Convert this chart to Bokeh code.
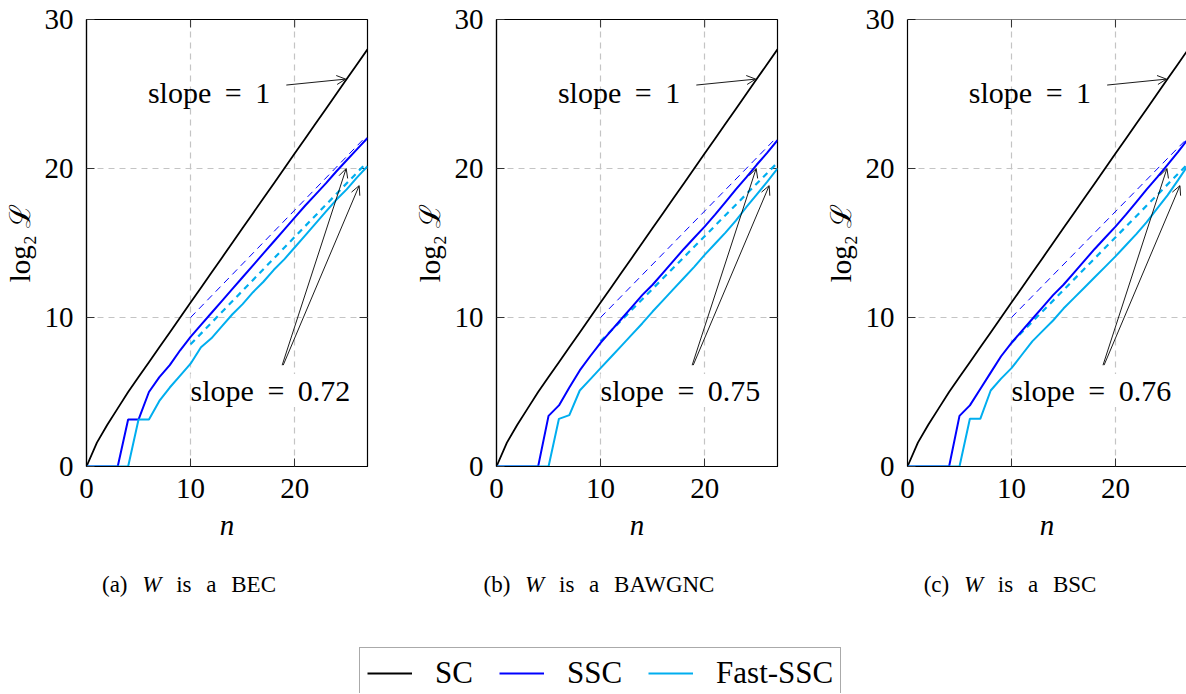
import math
from bokeh.plotting import figure
from bokeh.models import (Label, Arrow, OpenHead, Span, Legend, LegendItem, Div,
                          Spacer, Range1d, FixedTicker)
from bokeh.layouts import column, row
from bokeh.embed import file_html
from bokeh.resources import INLINE

# ---------------- data ----------------
n = list(range(28))
sc = [0, 1.6, 2.8, 3.9, 5.0, 6.0, 7.0, 8.0, 9.0, 10.0, 11.0, 12.0, 13.0, 14.0,
      15.0, 16.0, 17.0, 18.0, 19.0, 20.0, 21.0, 22.0, 23.0, 24.0, 25.0, 26.0, 27.0, 28.0]

ssc_a = [0, 0, 0, 0, 3.15, 3.15, 5.0, 6.0, 6.8, 7.8, 8.7, 9.5, 10.3, 11.1, 11.9,
         12.7, 13.5, 14.3, 15.1, 15.9, 16.7, 17.5, 18.25, 19.0, 19.8, 20.55, 21.3, 22.05]
fast_a = [0, 0, 0, 0, 0, 3.15, 3.15, 4.4, 5.3, 6.1, 6.9, 8.0, 8.6, 9.4, 10.2, 10.9,
          11.7, 12.4, 13.2, 13.9, 14.7, 15.5, 16.3, 17.1, 17.9, 18.6, 19.4, 20.15]

ssc_b = [0, 0, 0, 0, 0, 3.4, 4.1, 5.3, 6.45, 7.4, 8.3, 9.1, 9.9, 10.7, 11.5, 12.2,
         13.0, 13.8, 14.6, 15.35, 16.1, 16.9, 17.75, 18.6, 19.4, 20.25, 21.05, 21.9]
fast_b = [0, 0, 0, 0, 0, 0, 3.2, 3.45, 5.1, 5.85, 6.6, 7.35, 8.1, 8.85, 9.6, 10.4,
          11.15, 11.9, 12.65, 13.4, 14.2, 14.95, 15.7, 16.5, 17.4, 18.25, 19.1, 20.0]

ssc_c = [0, 0, 0, 0, 0, 3.4, 4.1, 5.2, 6.3, 7.4, 8.3, 9.1, 9.9, 10.7, 11.5, 12.2,
         13.0, 13.8, 14.6, 15.35, 16.1, 16.9, 17.75, 18.6, 19.4, 20.25, 21.1, 22.0]
fast_c = [0, 0, 0, 0, 0, 0, 3.2, 3.2, 5.1, 5.9, 6.6, 7.5, 8.4, 9.1, 9.8, 10.6,
          11.3, 12.0, 12.7, 13.4, 14.1, 14.85, 15.6, 16.4, 17.3, 18.2, 19.2, 20.25]

dash_x = [10, 26.8]
dash_ssc_a = [10.0, 22.1]
dash_fast_a = [8.2, 20.3]
dash_ssc_b = [10.0, 22.0]
dash_fast_b = [8.4, 20.25]
dash_ssc_c = [10.0, 21.95]
dash_fast_c = [8.3, 20.2]

slope_top = "slope \u2009= \u20091"
slope_labels = ["slope \u2009= \u20090.72", "slope \u2009= \u20090.75", "slope \u2009= \u20090.76"]
captions = [("(a)", "BEC"), ("(b)", "BAWGNC"), ("(c)", "BSC")]
x_ticks = [0, 10, 20]
y_ticks = [0, 10, 20, 30]
y_max = 30
series_names = ["SC", "SSC", "Fast-SSC"]

# ---------------- style ----------------
FONT = "Liberation Serif"
C_SC = "black"
C_SSC = "#0000FF"
C_FAST = "#00AEEF"
TICK_LEN = 8


def style_axis(ax, ticks):
    ax.ticker = FixedTicker(ticks=ticks)
    ax.axis_line_color = "black"
    ax.axis_line_width = 1.2
    ax.major_tick_in = TICK_LEN
    ax.major_tick_out = 0
    ax.major_tick_line_color = "#333333"
    ax.major_tick_line_width = 1.0
    ax.minor_tick_line_color = None
    ax.major_label_text_font = FONT
    ax.major_label_text_font_size = "29px"
    ax.major_label_text_color = "black"
    ax.axis_label_text_font = FONT
    ax.axis_label_text_font_size = "29px"
    ax.axis_label_text_color = "black"


def make_panel(ssc, fast, dssc, dfast, slope_text, width, xmax, right_border, cut):
    p = figure(width=width, height=551, x_range=Range1d(0, xmax), y_range=Range1d(0, y_max),
               output_backend="svg", toolbar_location=None,
               min_border_left=86, min_border_right=right_border,
               min_border_top=19, min_border_bottom=85)
    p.background_fill_color = "white"
    p.border_fill_color = "white"
    if cut:
        p.outline_line_color = None
        p.add_layout(Span(location=y_max, dimension="width", line_color="black", line_width=1.2))
    else:
        p.outline_line_color = "black"
        p.outline_line_width = 1.2
        p.outline_line_alpha = 1.0

    xax = p.xaxis[0]
    yax = p.yaxis[0]
    style_axis(xax, x_ticks)
    style_axis(yax, y_ticks)
    xax.axis_label = "n"
    xax.axis_label_text_font_style = "italic"
    xax.major_label_standoff = 12
    xax.axis_label_standoff = 8
    yax.axis_label = "log\u2082 \u2112"
    yax.axis_label_text_font_style = "normal"
    yax.major_label_standoff = 13
    yax.axis_label_standoff = 6

    for g in (p.xgrid, p.ygrid):
        g.grid_line_color = "#c4c4c4"
        g.grid_line_width = 1.2
        g.grid_line_dash = "6 5"

    # mirrored inward ticks on the top and right edges
    top_x = x_ticks[1:]
    p.ray(x=top_x, y=[y_max] * len(top_x), length=TICK_LEN, length_units="screen",
          angle=-math.pi / 2, line_color="#333333", line_width=1.0)
    if not cut:
        right_y = y_ticks[1:-1]
        p.ray(x=[xmax] * len(right_y), y=right_y, length=TICK_LEN, length_units="screen",
              angle=math.pi, line_color="#333333", line_width=1.0)

    p.line(dash_x, dssc, color=C_SSC, line_width=1.0, line_dash="7 5")
    p.line(dash_x, dfast, color=C_FAST, line_width=2.2, line_dash="6 5")
    p.line(n, sc, color=C_SC, line_width=1.8)
    p.line(n, ssc, color=C_SSC, line_width=2.0)
    p.line(n, fast, color=C_FAST, line_width=2.0)

    head = dict(size=9, line_width=0.9, line_color="black")
    p.add_layout(Arrow(end=OpenHead(**head), x_start=19.2, y_start=25.6,
                       x_end=24.9, y_end=26.0, line_width=0.9, line_color="black"))
    p.add_layout(Arrow(end=OpenHead(**head), x_start=18.8, y_start=6.8,
                       x_end=24.95, y_end=20.0, line_width=0.9, line_color="black"))
    p.add_layout(Arrow(end=OpenHead(**head), x_start=18.9, y_start=6.8,
                       x_end=26.2, y_end=18.85, line_width=0.9, line_color="black"))

    p.add_layout(Label(x=5.9, y=25.1, text=slope_top, text_font=FONT,
                       text_font_size="30px", text_baseline="middle", text_align="left",
                       text_color="black"))
    p.add_layout(Label(x=10.0, y=5.1, text=slope_text, text_font=FONT,
                       text_font_size="30px", text_baseline="middle", text_align="left",
                       text_color="black", background_fill_color="white"))
    return p


p1 = make_panel(ssc_a, fast_a, dash_ssc_a, dash_fast_a, slope_labels[0], 410, 27, 43, False)
p2 = make_panel(ssc_b, fast_b, dash_ssc_b, dash_fast_b, slope_labels[1], 411, 27, 44, False)
p3 = make_panel(ssc_c, fast_c, dash_ssc_c, dash_fast_c, slope_labels[2], 365, 26.83, 0, True)


def caption(tag, chan, width):
    html = ("<div style=\"width:378px;text-align:center;font-family:'Liberation Serif',serif;"
            "font-size:23px;line-height:24px;margin-top:22px;word-spacing:9px;"
            "white-space:nowrap;color:black\">"
            f"{tag} <i>W</i> is a {chan}</div>")
    return Div(text=html, width=width, height=60, margin=0)


c1 = caption(captions[0][0], captions[0][1], 410)
c2 = caption(captions[1][0], captions[1][1], 411)
c3 = caption(captions[2][0], captions[2][1], 365)

leg = figure(width=520, height=46, output_backend="svg", toolbar_location=None,
             min_border=0, x_range=Range1d(0, 1), y_range=Range1d(0, 1),
             x_axis_location=None, y_axis_location=None)
leg.outline_line_color = None
leg.grid.visible = False
off = [-10, -9]
r1 = leg.line(off, off, color=C_SC, line_width=1.8)
r2 = leg.line(off, off, color=C_SSC, line_width=2.0)
r3 = leg.line(off, off, color=C_FAST, line_width=2.0)
legend = Legend(items=[LegendItem(label=series_names[0], renderers=[r1]),
                       LegendItem(label=series_names[1], renderers=[r2]),
                       LegendItem(label=series_names[2], renderers=[r3])],
                orientation="horizontal", location="top_left", margin=0, padding=7,
                spacing=26, label_standoff=23, glyph_width=45, glyph_height=30,
                label_text_font=FONT, label_text_font_size="31px",
                label_text_color="black",
                border_line_color="#555555", border_line_width=1.2,
                background_fill_color="white", background_fill_alpha=1.0)
leg.add_layout(legend, "center")

layout = column(row(p1, p2, p3), row(c1, c2, c3), Spacer(height=36),
                row(Spacer(width=359), leg))

open("out.html", "w").write(file_html(layout, INLINE))
